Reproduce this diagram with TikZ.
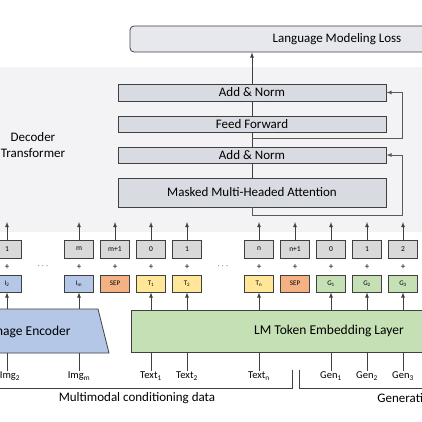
\documentclass[tikz,border=0pt]{standalone}
\usepackage{fontspec}
\setmainfont{Carlito}
\usetikzlibrary{positioning}

\definecolor{bgcol}{HTML}{F3F3F5}
\definecolor{linecol}{HTML}{404040}
\definecolor{rescol}{HTML}{5A5A5A}
\definecolor{layercol}{HTML}{D9DBE3}
\definecolor{losscol}{HTML}{E6E8EE}
\definecolor{poscol}{HTML}{D9D9D9}
\definecolor{imgcol}{HTML}{B4C7E7}
\definecolor{sepcol}{HTML}{F4B183}
\definecolor{txtcol}{HTML}{FFE699}
\definecolor{gencol}{HTML}{C5E0B4}

\tikzset{
	layer/.style={draw=linecol, fill=layercol, minimum width=268pt, inner sep=0pt, font=\fontsize{13}{14}\selectfont},
	posbox/.style={draw=linecol, fill=poscol, minimum width=29pt, minimum height=18pt, inner sep=0pt, font=\fontsize{7.5}{8}\selectfont},
	tokbox/.style={posbox, minimum height=17pt, font=\fontsize{7}{8}\selectfont},
	plus/.style={inner sep=0pt, font=\fontsize{9}{9}\selectfont},
	inlabel/.style={inner sep=0pt, font=\fontsize{10.5}{11}\selectfont},
	up/.style={draw=linecol, -latex},
	res/.style={draw=rescol, -latex},
}

\begin{document}
\begin{tikzpicture}[x=1pt,y=-1pt,line width=0.8pt]
		\clip (0,0) rectangle (422,422);
		\fill[white] (0,0) rectangle (422,422);
		\fill[bgcol] (0,67) rectangle (422,232);

		% decoder
		\node[draw=linecol, fill=losscol, rounded corners=4pt, minimum width=414pt, minimum height=26pt, font=\fontsize{13}{14}\selectfont] (loss) at (337,39) {Language Modeling Loss};
		\node[layer, minimum height=17pt]	(an1) at (252,92.5)		{Add \& Norm};
		\node[layer, minimum height=16pt]	(ff) at (252,124)		{Feed Forward};
		\node[layer, minimum height=16pt]	(an2) at (252,155)		{Add \& Norm};
		\node[layer, minimum height=29pt]	(mha) at (252,192.5)	{Masked Multi-Headed Attention};
		\node[align=center, font=\fontsize{13}{16}\selectfont] (dec) at (33,145) {Decoder\\Transformer};

		\coordinate (rx) at (402,0);
		\draw[linecol] (mha) -- (an2) -- (ff) -- (an1);
		\draw[up] (an1.north) -- (an1.north |- loss.south);
		\draw[rescol] (mha.south) -- ++(0,8) coordinate (r1);
		\draw[res] (r1) -- (r1 -| rx) |- (an2.east);
		\coordinate (r2) at (252,138);
		\draw[res] (r2) -- (r2 -| rx) |- (an1.east);

		% positions
		\node[posbox]	(p1) at (7,249)		{1};
		\node[posbox]	(p2) at (79,249)	{m};
		\node[posbox]	(p3) at (115,249)	{m+1};
		\node[posbox]	(p4) at (151,249)	{0};
		\node[posbox]	(p5) at (187,249)	{1};
		\node[posbox]	(p6) at (259,249)	{n};
		\node[posbox]	(p7) at (295,249)	{n+1};
		\node[posbox]	(p8) at (331,249)	{0};
		\node[posbox]	(p9) at (367,249)	{1};
		\node[posbox]	(p10) at (403,249)	{2};

		\node[plus] (s1) at (7,267) {+};
		\node[plus] (s2) at (79,267) {+};
		\node[plus] (s3) at (115,267) {+};
		\node[plus] (s4) at (151,267) {+};
		\node[plus] (s5) at (187,267) {+};
		\node[plus] (s6) at (259,267) {+};
		\node[plus] (s7) at (295,267) {+};
		\node[plus] (s8) at (331,267) {+};
		\node[plus] (s9) at (367,267) {+};
		\node[plus] (s10) at (403,267) {+};
		\node[plus] (d1) at (43,266) {$\cdots$};
		\node[plus] (d2) at (223,266) {$\cdots$};

		% tokens
		\node[tokbox, fill=imgcol]	(t1) at (7,283.5)	{I\textsubscript{2}};
		\node[tokbox, fill=imgcol]	(t2) at (79,283.5)	{I\textsubscript{m}};
		\node[tokbox, fill=sepcol]	(t3) at (115,283.5)	{SEP};
		\node[tokbox, fill=txtcol]	(t4) at (151,283.5)	{T\textsubscript{1}};
		\node[tokbox, fill=txtcol]	(t5) at (187,283.5)	{T\textsubscript{2}};
		\node[tokbox, fill=txtcol]	(t6) at (259,283.5)	{T\textsubscript{n}};
		\node[tokbox, fill=sepcol]	(t7) at (295,283.5)	{SEP};
		\node[tokbox, fill=gencol]	(t8) at (331,283.5)	{G\textsubscript{1}};
		\node[tokbox, fill=gencol]	(t9) at (367,283.5)	{G\textsubscript{2}};
		\node[tokbox, fill=gencol]	(t10) at (403,283.5)	{G\textsubscript{3}};

		\draw[up] (p1) -- (7,222);
		\draw[up] (p2) -- (79,222);
		\draw[up] (p3) -- (115,222);
		\draw[up] (p4) -- (151,222);
		\draw[up] (p5) -- (187,222);
		\draw[up] (p6) -- (259,222);
		\draw[up] (p7) -- (295,222);
		\draw[up] (p8) -- (331,222);
		\draw[up] (p9) -- (367,222);
		\draw[up] (p10) -- (403,222);

		% encoders
		\draw[linecol, fill=imgcol] (-60,309) coordinate (encnw) -- (98,309) -- (109,353) -- (-60,353) coordinate (encsw) -- cycle;
		\node[anchor=east, inner sep=0pt, font=\fontsize{13.5}{14}\selectfont] (enc) at (71,332) {Image Encoder};
		\node[draw=linecol, fill=gencol, minimum width=396pt, minimum height=42pt, font=\fontsize{13.5}{14}\selectfont] (emb) at (329,331) {LM Token Embedding Layer};

		\draw[up] (t1 |- encnw) -- (t1);
		\draw[up] (t2 |- encnw) -- (t2);
		\draw[up] (t4 |- emb.north) -- (t4);
		\draw[up] (t5 |- emb.north) -- (t5);
		\draw[up] (t6 |- emb.north) -- (t6);
		\draw[up] (t8 |- emb.north) -- (t8);
		\draw[up] (t9 |- emb.north) -- (t9);
		\draw[up] (t10 |- emb.north) -- (t10);

		% inputs
		\node[inlabel]	(i1) at (10,376)	{Img\textsubscript{2}};
		\node[inlabel]	(i2) at (79,376)	{Img\textsubscript{m}};
		\node[inlabel]	(i4) at (151,376)	{Text\textsubscript{1}};
		\node[inlabel]	(i5) at (187,376)	{Text\textsubscript{2}};
		\node[inlabel]	(i6) at (259,376)	{Text\textsubscript{n}};
		\node[inlabel]	(i8) at (331,376)	{Gen\textsubscript{1}};
		\node[inlabel]	(i9) at (367,376)	{Gen\textsubscript{2}};
		\node[inlabel]	(i10) at (403,376)	{Gen\textsubscript{3}};

		\draw[linecol] (t1 |- i1.north) -- (t1 |- encsw);
		\draw[linecol] (i2) -- (i2 |- encsw);
		\draw[linecol] (i4) -- (i4 |- emb.south);
		\draw[linecol] (i5) -- (i5 |- emb.south);
		\draw[linecol] (i6) -- (i6 |- emb.south);
		\draw[linecol] (i8) -- (i8 |- emb.south);
		\draw[linecol] (i9) -- (i9 |- emb.south);
		\draw[linecol] (i10) -- (i10 |- emb.south);

		% brackets
		\coordinate (b1) at (292,370);
		\coordinate (b2) at (299,370);
		\draw[linecol] (-10,388) -- (b1 |- 0,388) -- (b1);
		\draw[linecol] (b2) -- (b2 |- 0,388) -- (440,388);
		\node[font=\fontsize{13}{14}\selectfont] (cond) at (137,398) {Multimodal conditioning data};
		\node[anchor=west, inner sep=0pt, font=\fontsize{13}{14}\selectfont] (gen) at (377,398) {Generation};
	\end{tikzpicture}
\end{document}
